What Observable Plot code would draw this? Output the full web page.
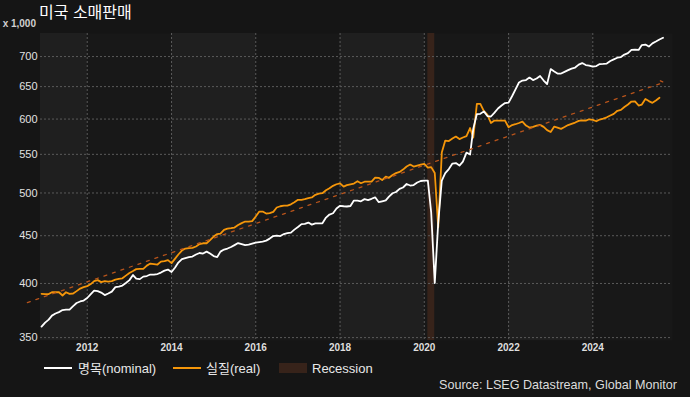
<!DOCTYPE html>
<html>
<head>
<meta charset="utf-8">
<script src="https://cdn.jsdelivr.net/npm/d3@7"></script>
<script src="https://cdn.jsdelivr.net/npm/@observablehq/plot@0.6"></script>
<style>
  html, body { margin: 0; padding: 0; background: #151515; }
  #wrap { position: relative; width: 690px; height: 397px; overflow: hidden;
          font-family: "Liberation Sans", Arial, "Noto Sans CJK KR", sans-serif; color: #fff; }
  #chart { position: absolute; left: 0; top: 0; }
  #title { position: absolute; left: 39px; top: 4px; font-size: 16px; line-height: 18px; color: #fff; }
  #unit { position: absolute; right: 654px; top: 18px; font-size: 10px; line-height: 12px; color: #d0d0d0; font-weight: bold; white-space: nowrap; }
  .lg { position: absolute; font-size: 13px; line-height: 15px; top: 361px; color: #e8e8e8; white-space: nowrap; }
  .sw { position: absolute; }
  #source { position: absolute; right: 13px; top: 378px; font-size: 12.6px; line-height: 15px; color: #dcdcdc; white-space: nowrap; }
</style>
</head>
<body>
<div id="wrap">
  <div id="chart"></div>
  <div id="title">미국 소매판매</div>
  <div id="unit">x 1,000</div>
  <div class="sw" style="left:44px;top:367px;width:28px;height:2px;background:#ffffff"></div>
  <div class="lg" style="left:78px">명목(nominal)</div>
  <div class="sw" style="left:173px;top:367px;width:28px;height:2px;background:#f5960a"></div>
  <div class="lg" style="left:206px">실질(real)</div>
  <div class="sw" style="left:279px;top:363px;width:28px;height:10px;background:#37231a"></div>
  <div class="lg" style="left:312px">Recession</div>
  <div id="source">Source: LSEG Datastream, Global Monitor</div>
</div>
<script>
// ---- data (monthly, x 1,000) ----
const nominalStart = "2010-12";
const nominal = [
  359.6, 363.2, 365.9, 369.5, 371.4, 372.7, 374.6, 375.0, 375.0, 378.3, 381.2, 382.6, 383.5,
  385.9, 389.7, 393.0, 392.5, 391.1, 388.7, 390.2, 392.0, 396.4, 396.9, 397.9, 400.4,
  403.3, 408.4, 404.8, 404.3, 406.8, 407.4, 408.9, 408.9, 409.4, 410.9, 412.9, 413.9,
  411.4, 416.0, 421.1, 424.8, 425.9, 426.9, 427.4, 429.6, 431.2, 430.6, 432.7, 430.6,
  428.0, 426.9, 432.7, 434.9, 436.0, 437.6, 439.7, 441.9, 440.8, 439.7, 440.3, 441.4,
  442.4, 443.0, 443.5, 444.6, 446.8, 449.6, 450.1, 449.6, 451.8, 452.9, 453.5, 456.8,
  459.7, 463.1, 463.3, 464.8, 462.5, 464.0, 464.0, 464.0, 470.6, 474.1, 475.6, 481.2,
  484.4, 483.9, 483.6, 484.2, 490.7, 490.7, 489.9, 492.5, 491.3, 492.9, 494.7, 488.9,
  489.9, 490.9, 495.6, 499.7, 501.2, 505.1, 506.8, 511.2, 509.3, 509.9, 513.1, 515.0,
  515.6, 515.6, 476.5, 400.4, 464.8, 515.6, 525.2, 530.4, 537.6, 538.3, 535.0, 540.3,
  552.4, 549.7, 586.0, 607.5, 607.8, 611.5, 604.5, 603.8, 609.7, 615.8, 620.4, 624.2,
  624.9, 635.1, 645.3, 656.6, 659.8, 660.6, 664.7, 660.6, 663.1, 667.3, 659.8, 654.2,
  678.7, 674.6, 671.3, 671.3, 674.1, 677.0, 679.6, 681.3, 686.3, 688.9, 685.5, 684.7,
  683.0, 683.8, 687.2, 687.5, 688.0, 692.3, 695.2, 698.0, 699.2, 703.5, 706.1, 711.6,
  712.2, 711.6, 720.2, 721.1, 717.5, 723.2, 726.4, 730.0, 733.2
];
const realStart = "2010-12";
const real = [
  389.9, 389.7, 389.7, 391.4, 391.4, 391.4, 388.3, 391.4, 389.9, 390.2, 392.5, 395.0, 396.4,
  397.4, 399.4, 402.3, 403.3, 401.3, 402.3, 401.8, 402.3, 403.8, 404.6, 405.1, 407.8,
  410.4, 412.4, 414.4, 414.6, 414.6, 418.0, 420.1, 419.6, 419.1, 422.2, 422.7, 423.7,
  420.6, 425.3, 429.6, 433.8, 436.0, 436.5, 436.7, 438.2, 440.8, 441.7, 441.7, 445.2,
  449.1, 451.8, 452.4, 456.5, 458.0, 458.5, 459.1, 462.0, 464.2, 466.0, 466.0, 466.5,
  471.8, 477.6, 477.6, 475.3, 475.8, 477.3, 482.4, 483.9, 484.7, 484.7, 486.2, 488.7,
  491.6, 491.6, 492.5, 493.8, 494.6, 497.7, 499.1, 499.7, 503.4, 505.8, 508.9, 510.9,
  512.1, 508.0, 509.7, 510.8, 511.8, 514.7, 512.2, 514.1, 514.3, 514.3, 519.4, 519.1,
  516.2, 520.7, 519.1, 522.6, 525.2, 526.7, 529.7, 533.7, 536.3, 533.7, 535.0, 536.3,
  537.2, 532.2, 532.9, 525.2, 459.4, 552.4, 569.0, 568.3, 571.8, 574.7, 571.1, 573.3,
  575.4, 586.9, 573.3, 623.0, 623.0, 612.0, 606.7, 594.2, 597.8, 597.8, 597.8, 597.8,
  588.0, 591.2, 592.4, 594.2, 596.3, 590.5, 587.6, 588.6, 590.5, 591.5, 588.6, 583.9,
  581.1, 589.0, 587.6, 585.7, 588.3, 591.2, 593.0, 594.9, 597.4, 598.1, 597.8, 599.7,
  598.8, 596.8, 599.3, 600.8, 602.6, 605.3, 607.8, 612.4, 613.8, 618.1, 621.9, 626.5,
  626.8, 620.4, 621.9, 630.4, 627.2, 624.5, 628.0, 632.3
];
const trendDates = ["2010-07-31", "2025-08-27"];
const trendValues = [381.6, 656.1];
const recessionDates = ["2020-02-01", "2020-04-01"];
const shadedBands = [["2010-11-22", "2012-01-01"], ["2014-01-01", "2016-01-01"], ["2018-01-01", "2020-01-01"], ["2022-01-01", "2024-01-01"]];
const xTickYears = [2012, 2014, 2016, 2018, 2020, 2022, 2024];
const yTicks = [350, 400, 450, 500, 550, 600, 650, 700];
const xDomain = ["2010-11-22", "2025-11-22"];
const yDomain = [347.5, 741];

// ---- build tables ----
const utc = s => { const [y, m, d] = s.split("-").map(Number); return new Date(Date.UTC(y, m - 1, d || 1)); };
function monthly(start, values) {
  const [y, m] = start.split("-").map(Number);
  return values.map((v, i) => ({date: new Date(Date.UTC(y, m - 1 + i, 1)), value: v}));
}
const nominalData = monthly(nominalStart, nominal);
const realData = monthly(realStart, real);
const trendData = trendDates.map((d, i) => ({date: utc(d), value: trendValues[i]}));
const bands = shadedBands.map(([a, b]) => ({x1: utc(a), x2: utc(b)}));
const recession = [{x1: utc(recessionDates[0]), x2: utc(recessionDates[1])}];
const xTicks = xTickYears.map(y => new Date(Date.UTC(y, 0, 1)));

const chart = Plot.plot({
  width: 690,
  height: 357,
  marginLeft: 40,
  marginRight: 18,
  marginTop: 33,
  marginBottom: 17,
  style: {background: "transparent", overflow: "visible", fontFamily: '"Liberation Sans", Arial, sans-serif', color: "#ddd"},
  x: {type: "utc", domain: xDomain.map(utc), axis: null},
  y: {type: "log", domain: yDomain, axis: null},
  marks: [
    Plot.frame({fill: "#181818", stroke: null}),
    Plot.rect(bands, {x1: "x1", x2: "x2", fill: "#1f1f1f"}),
    Plot.rect(recession, {x1: "x1", x2: "x2", fill: "#37231a"}),
    Plot.gridY(yTicks, {stroke: "#5a5a5a", strokeOpacity: 1, strokeDasharray: "2,2"}),
    Plot.gridX(xTicks, {stroke: "#5a5a5a", strokeOpacity: 1, strokeDasharray: "2,2"}),
    Plot.axisY(yTicks, {tickSize: 0, tickPadding: 3, tickFormat: d => String(d), fontSize: 11, fill: "#e2e2e2", label: null}),
    Plot.axisX(xTicks, {tickSize: 0, tickPadding: 3, tickFormat: d => String(d.getUTCFullYear()), fontSize: 10, fontWeight: "bold", fill: "#dedede", label: null}),
    Plot.line(realData, {x: "date", y: "value", stroke: "#f5960a", strokeWidth: 1.8}),
    Plot.line(nominalData, {x: "date", y: "value", stroke: "#ffffff", strokeWidth: 1.8}),
    Plot.line(trendData, {x: "date", y: "value", stroke: "#b8541b", strokeWidth: 1.3, strokeDasharray: "3,6", markerEnd: "arrow"})
  ]
});
document.getElementById("chart").appendChild(chart);
</script>
</body>
</html>
